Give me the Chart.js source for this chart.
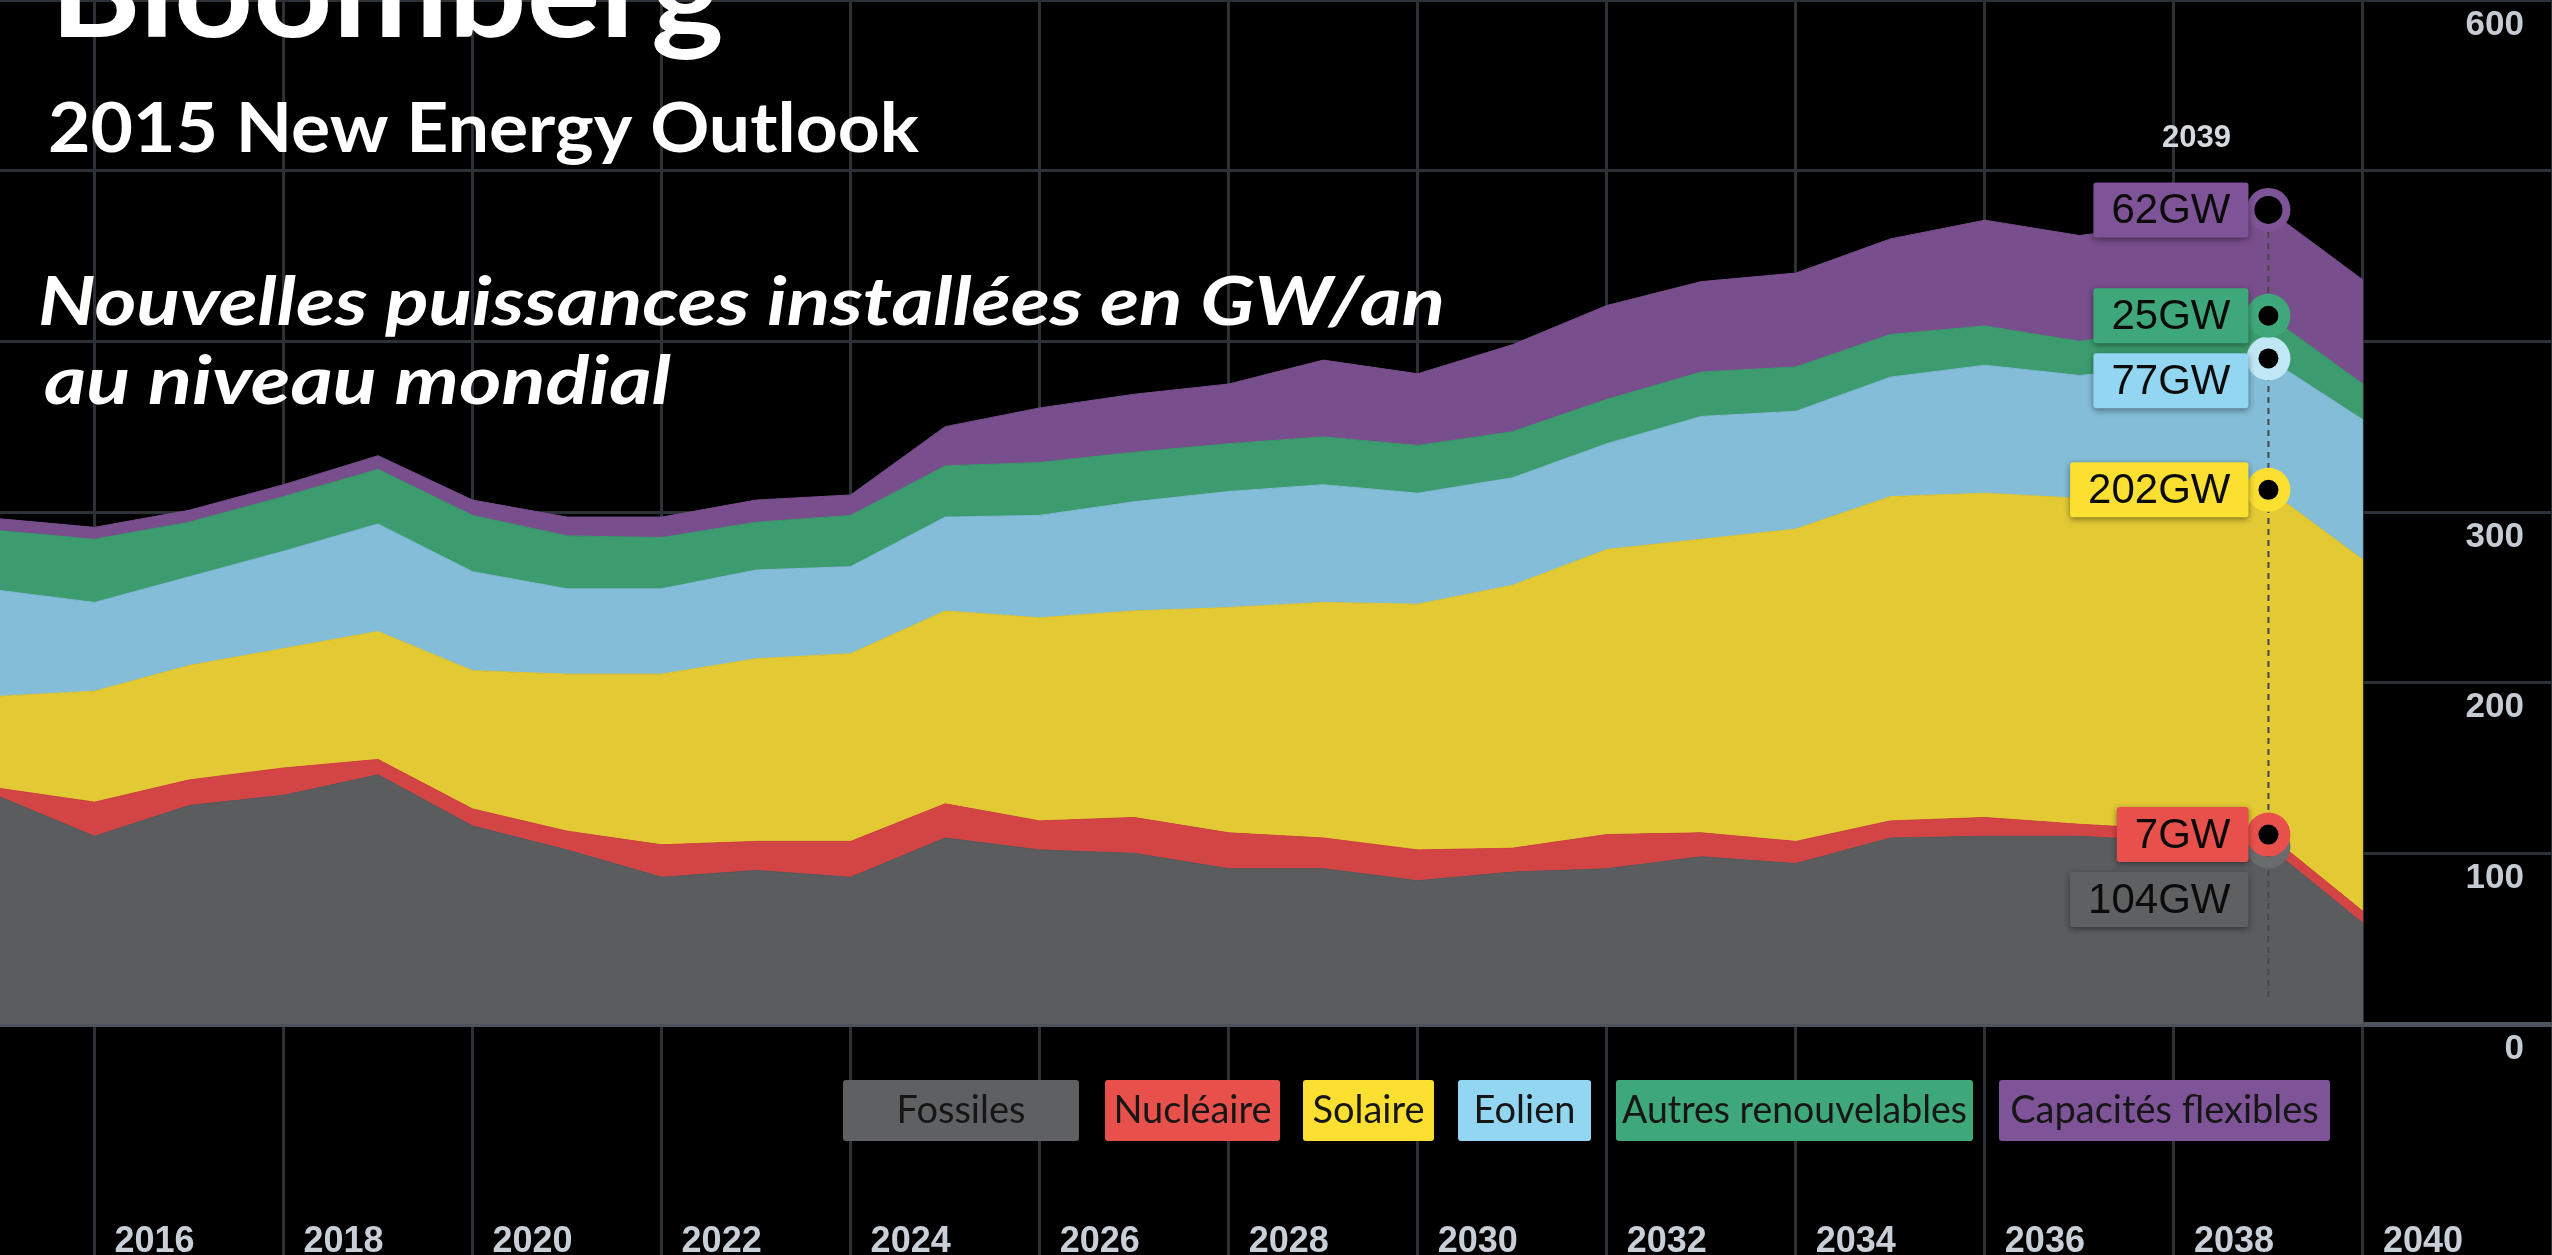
<!DOCTYPE html>
<html>
<head>
<meta charset="utf-8">
<script src="https://cdn.jsdelivr.net/npm/chart.js@4.4.1/dist/chart.umd.min.js"></script>
<style>
  html, body { margin: 0; padding: 0; background: #000; overflow: hidden; }
  #wrap { position: relative; width: 2552px; height: 1255px; }
</style>
</head>
<body>
<div id="wrap"><canvas id="energyChart"></canvas></div>
<script>
// ======================
// DATA (GW / an)
// ======================
const years = [2015, 2016, 2017, 2018, 2019, 2020, 2021, 2022, 2023, 2024, 2025, 2026, 2027,
  2028, 2029, 2030, 2031, 2032, 2033, 2034, 2035, 2036, 2037, 2038, 2039, 2040];

const fossiles  = [133, 110, 128, 134, 146, 116, 102, 86, 90, 86, 109, 102, 100, 91, 91, 84, 89, 91, 98, 94, 109, 110, 110, 107, 104, 59];
const nucleaire = [5, 20, 15, 16, 9, 10, 11, 19, 17, 21, 20, 17, 21, 21, 18, 18, 14, 20, 14, 13, 10, 11, 7, 7, 7, 7];
const solaire   = [54, 65, 67, 70, 75, 81, 92, 100, 107, 110, 113, 119, 121, 132, 138, 144, 154, 167, 172, 183, 190, 190, 191, 196, 202, 206];
const eolien    = [62, 52, 52, 57, 63, 58, 50, 50, 52, 51, 55, 60, 64, 68, 69, 65, 63, 62, 72, 69, 70, 75, 72, 75, 77, 82];
const autres    = [35, 37, 32, 32, 32, 33, 31, 30, 28, 30, 30, 31, 29, 28, 28, 28, 27, 26, 26, 26, 25, 23, 20, 23, 25, 21];
const flexibles = [7, 7, 7, 7, 8, 9, 11, 12, 13, 12, 23, 32, 34, 35, 45, 42, 51, 55, 53, 55, 56, 62, 62, 61, 62, 61];

const seriesNames = ["Fossiles", "Nucléaire", "Solaire", "Eolien", "Autres renouvelables", "Capacités flexibles"];

const yTickLabels = [0, 100, 200, 300, 600];
const xTickYears  = [2016, 2018, 2020, 2022, 2024, 2026, 2028, 2030, 2032, 2034, 2036, 2038, 2040, 2042];
const xTickLabels = [2016, 2018, 2020, 2022, 2024, 2026, 2028, 2030, 2032, 2034, 2036, 2038, 2040];

const focusYear = 2039;
const unit = "GW";

const titleLines = [
  "Bloomberg",
  "2015 New Energy Outlook",
  "Nouvelles puissances installées en GW/an",
  "au niveau mondial"
];

// ======================
// STYLES
// ======================
const areaColors  = ["#5b5c5e", "#d34545", "#e3ca34", "#83bdd8", "#3c9c6f", "#784e8c"];
const badgeColors = ["#5f6062", "#e8514b", "#fbe032", "#93d6f1", "#3fa87a", "#7e5398"];
const ringColors  = ["#6a6b6d", "#e8514b", "#fbe032", "#bfe7f6", "#3fa87a", "#7e5398"];

const legendBoxes = [[843, 1079], [1105, 1280], [1303, 1434], [1458, 1591], [1616, 1973], [1999, 2330]];

const seriesData = [fossiles, nucleaire, solaire, eolien, autres, flexibles];

// ======================
// HELPERS
// ======================
function fitText(ctx, text, x, baseline, width, font) {
  ctx.font = font;
  const m = ctx.measureText(text).width;
  ctx.save();
  ctx.translate(x, baseline);
  ctx.scale(width / m, 1);
  ctx.fillText(text, 0, 0);
  ctx.restore();
}

function roundBox(ctx, x, y, w, h, r) {
  ctx.beginPath();
  ctx.roundRect(x, y, w, h, r);
  ctx.fill();
}

// ======================
// OVERLAY PLUGIN
// ======================
const overlayPlugin = {
  id: "overlay",

  afterDatasetsDraw(chart) {
    const ctx = chart.ctx;
    const idx = years.indexOf(focusYear);
    const metas = seriesData.map((d, i) => chart.getDatasetMeta(i));
    const x = metas[0].data[idx].x;
    const topY = metas[5].data[idx].y;

    // crosshair
    ctx.save();
    ctx.strokeStyle = "#474747";
    ctx.lineWidth = 2;
    ctx.setLineDash([6, 5]);
    ctx.beginPath();
    ctx.moveTo(x, topY + 22);
    ctx.lineTo(x, chart.chartArea.bottom - 27);
    ctx.stroke();
    ctx.restore();

    // markers
    ctx.save();
    for (let i = 0; i < metas.length; i++) {
      const p = metas[i].data[idx];
      ctx.fillStyle = ringColors[i];
      ctx.beginPath();
      ctx.arc(p.x, p.y, 22, 0, Math.PI * 2);
      ctx.fill();
      ctx.fillStyle = "#000";
      ctx.beginPath();
      ctx.arc(p.x, p.y, i === 5 ? 14 : 10, 0, Math.PI * 2);
      ctx.fill();
    }
    ctx.restore();

    // value badges, top to bottom
    ctx.save();
    ctx.font = '42px "Liberation Sans"';
    ctx.textAlign = "center";
    ctx.textBaseline = "middle";
    let prevBottom = -Infinity;
    for (let i = metas.length - 1; i >= 0; i--) {
      const p = metas[i].data[idx];
      const text = seriesData[i][idx] + unit;
      const h = 55;
      const w = ctx.measureText(text).width + 36;
      const top = Math.max(p.y - h / 2, prevBottom + 10);
      const left = x - 20 - w;
      ctx.shadowColor = "rgba(0,0,0,0.45)";
      ctx.shadowBlur = 6;
      ctx.shadowOffsetY = 2;
      ctx.fillStyle = badgeColors[i];
      roundBox(ctx, left, top, w, h, 3);
      ctx.shadowColor = "transparent";
      ctx.fillStyle = "#0b0b0b";
      ctx.fillText(text, left + w / 2, top + h / 2 + 2);
      prevBottom = top + h;
    }
    ctx.restore();

    // year label
    ctx.save();
    ctx.font = 'bold 31px "Liberation Sans"';
    ctx.fillStyle = "#d5dae0";
    ctx.textAlign = "center";
    ctx.textBaseline = "middle";
    ctx.fillText(String(focusYear), x - 72, 138);
    ctx.restore();
  },

  afterDraw(chart) {
    const ctx = chart.ctx;

    // titles
    ctx.save();
    ctx.fillStyle = "#ffffff";
    ctx.textBaseline = "alphabetic";
    ctx.textAlign = "left";
    fitText(ctx, titleLines[0], 50, 37, 674, "bold 125px Lato");
    fitText(ctx, titleLines[1], 48, 152, 871, "bold 68px Lato");
    fitText(ctx, titleLines[2], 38, 325, 1407, "italic bold 67px Lato");
    fitText(ctx, titleLines[3], 44, 404, 627, "italic bold 67px Lato");
    ctx.restore();

    // legend
    ctx.save();
    ctx.textAlign = "center";
    ctx.textBaseline = "middle";
    ctx.font = "38px Lato";
    seriesNames.forEach((name, i) => {
      const [x0, x1] = legendBoxes[i];
      ctx.fillStyle = badgeColors[i];
      roundBox(ctx, x0, 1080, x1 - x0, 61, 3);
      ctx.fillStyle = "#161616";
      ctx.fillText(name, (x0 + x1) / 2, 1111, x1 - x0 - 12);
    });
    ctx.restore();
  }
};

// ======================
// CHART
// ======================
const ctx = document.getElementById("energyChart").getContext("2d");

const datasets = seriesNames.map((name, i) => ({
  label: name,
  data: years.map((yr, k) => ({ x: yr, y: seriesData[i][k] })),
  backgroundColor: areaColors[i],
  borderColor: areaColors[i],
  borderWidth: 1,
  pointRadius: 0,
  fill: i === 0 ? "origin" : "-1",
  tension: 0
}));

new Chart(ctx, {
  type: "line",
  data: { datasets },
  options: {
    responsive: true,
    maintainAspectRatio: false,
    animation: false,
    events: [],
    layout: { padding: 0 },
    plugins: {
      legend: { display: false },
      tooltip: { enabled: false }
    },
    scales: {
      x: {
        type: "linear",
        min: 2015,
        max: 2042,
        afterBuildTicks(s) {
          s.ticks = xTickYears.map(v => ({ value: v }));
        },
        afterFit(s) {
          s.height = 231;
          s.paddingLeft = 0;
          s.paddingRight = 0;
        },
        ticks: {
          autoSkip: false,
          maxRotation: 0,
          labelOffset: 60,
          padding: -35,
          color: "#c8cfd7",
          font: { family: "Liberation Sans", size: 36, weight: "bold" },
          callback: v => (xTickLabels.includes(v) ? String(v) : "")
        },
        grid: { color: "#2b3137", lineWidth: 3, tickLength: 231 },
        border: { display: true, color: "#4d545b", width: 5 }
      },
      y: {
        position: "right",
        stacked: true,
        min: 0,
        max: 600,
        afterFit(s) {
          s.width = 0;
          s.paddingTop = 0;
          s.paddingBottom = 0;
        },
        ticks: {
          stepSize: 100,
          mirror: true,
          padding: -28,
          labelOffset: 25,
          color: "#c5cbd2",
          font: { family: "Liberation Sans", size: 35, weight: "bold" },
          callback: v => (yTickLabels.includes(v) ? String(v) : "")
        },
        grid: { color: "#2d3238", lineWidth: 3, drawTicks: false },
        border: { display: false }
      }
    }
  },
  plugins: [overlayPlugin]
});
</script>
</body>
</html>
